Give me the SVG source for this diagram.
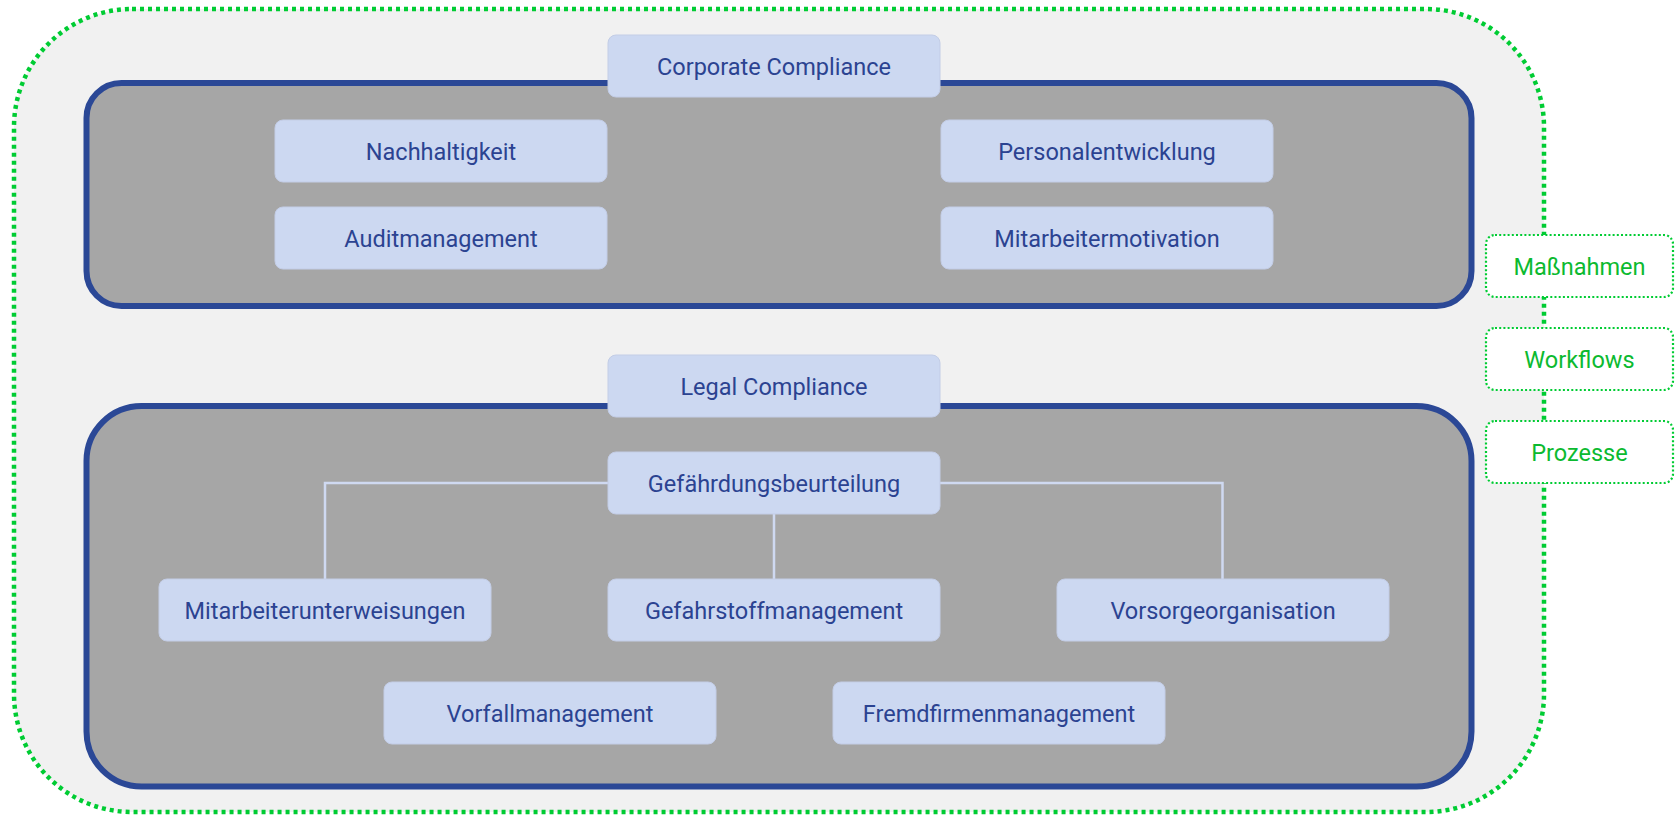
<svg xmlns="http://www.w3.org/2000/svg" width="1680" height="815" viewBox="0 0 1680 815">
  <style>
    .node rect { fill: #ccd8f1; stroke: #c3cde6; stroke-width: 1; }
    .node text { font-family: Roboto, "Liberation Sans", sans-serif; font-size: 23.5px; fill: #2b4391; text-anchor: middle; letter-spacing: 0px; }
    .side rect { fill: #ffffff; stroke: #00cc33; stroke-width: 2.2; stroke-dasharray: 2 2.2; }
    .side text { font-family: Roboto, "Liberation Sans", sans-serif; font-size: 23.5px; fill: #0cba30; text-anchor: middle; letter-spacing: 0px; }
    .panel { fill: #a6a6a6; stroke: #2b4896; stroke-width: 6; }
    .conn { fill: none; stroke: #cfd9f1; stroke-width: 2.5; }
  </style>
  <rect x="0" y="0" width="1680" height="815" fill="#ffffff"/>
  <g id="outer">
    <rect x="14" y="9" width="1530" height="803" rx="118" ry="118" fill="#f1f1f1" stroke="#00cc33" stroke-width="4.5" stroke-dasharray="4 4"/>
  </g>
  <g id="corporate-panel">
    <rect class="panel" x="86.5" y="83" width="1385" height="223" rx="35" ry="35"/>
  </g>
  <g id="legal-panel">
    <rect class="panel" x="86.5" y="406" width="1385" height="380.5" rx="55" ry="55"/>
  </g>
  <g id="connectors">
    <path class="conn" d="M608 483 H325 V579"/>
    <path class="conn" d="M774 514 V579"/>
    <path class="conn" d="M940 483 H1222.5 V579"/>
  </g>
  <g id="corporate-compliance" class="node">
    <rect x="608" y="35" width="332" height="62" rx="8"/>
    <text x="774" y="74.5">Corporate Compliance</text>
  </g>
  <g id="nachhaltigkeit" class="node">
    <rect x="275" y="120" width="332" height="62" rx="8"/>
    <text x="441" y="159.5">Nachhaltigkeit</text>
  </g>
  <g id="auditmanagement" class="node">
    <rect x="275" y="207" width="332" height="62" rx="8"/>
    <text x="441" y="246.5">Auditmanagement</text>
  </g>
  <g id="personalentwicklung" class="node">
    <rect x="941" y="120" width="332" height="62" rx="8"/>
    <text x="1107" y="159.5">Personalentwicklung</text>
  </g>
  <g id="mitarbeitermotivation" class="node">
    <rect x="941" y="207" width="332" height="62" rx="8"/>
    <text x="1107" y="246.5">Mitarbeitermotivation</text>
  </g>
  <g id="legal-compliance" class="node">
    <rect x="608" y="355" width="332" height="62" rx="8"/>
    <text x="774" y="394.5">Legal Compliance</text>
  </g>
  <g id="gefaehrdungsbeurteilung" class="node">
    <rect x="608" y="452" width="332" height="62" rx="8"/>
    <text x="774" y="491.5">Gefährdungsbeurteilung</text>
  </g>
  <g id="mitarbeiterunterweisungen" class="node">
    <rect x="159" y="579" width="332" height="62" rx="8"/>
    <text x="325" y="618.5">Mitarbeiterunterweisungen</text>
  </g>
  <g id="gefahrstoffmanagement" class="node">
    <rect x="608" y="579" width="332" height="62" rx="8"/>
    <text x="774" y="618.5">Gefahrstoffmanagement</text>
  </g>
  <g id="vorsorgeorganisation" class="node">
    <rect x="1057" y="579" width="332" height="62" rx="8"/>
    <text x="1223" y="618.5">Vorsorgeorganisation</text>
  </g>
  <g id="vorfallmanagement" class="node">
    <rect x="384" y="682" width="332" height="62" rx="8"/>
    <text x="550" y="721.5">Vorfallmanagement</text>
  </g>
  <g id="fremdfirmenmanagement" class="node">
    <rect x="833" y="682" width="332" height="62" rx="8"/>
    <text x="999" y="721.5">Fremdfirmenmanagement</text>
  </g>
  <g id="massnahmen" class="side">
    <rect x="1486" y="235" width="187" height="62" rx="9"/>
    <text x="1579.5" y="274.5">Maßnahmen</text>
  </g>
  <g id="workflows" class="side">
    <rect x="1486" y="328" width="187" height="62" rx="9"/>
    <text x="1579.5" y="367.5">Workflows</text>
  </g>
  <g id="prozesse" class="side">
    <rect x="1486" y="421" width="187" height="62" rx="9"/>
    <text x="1579.5" y="460.5">Prozesse</text>
  </g>
</svg>
